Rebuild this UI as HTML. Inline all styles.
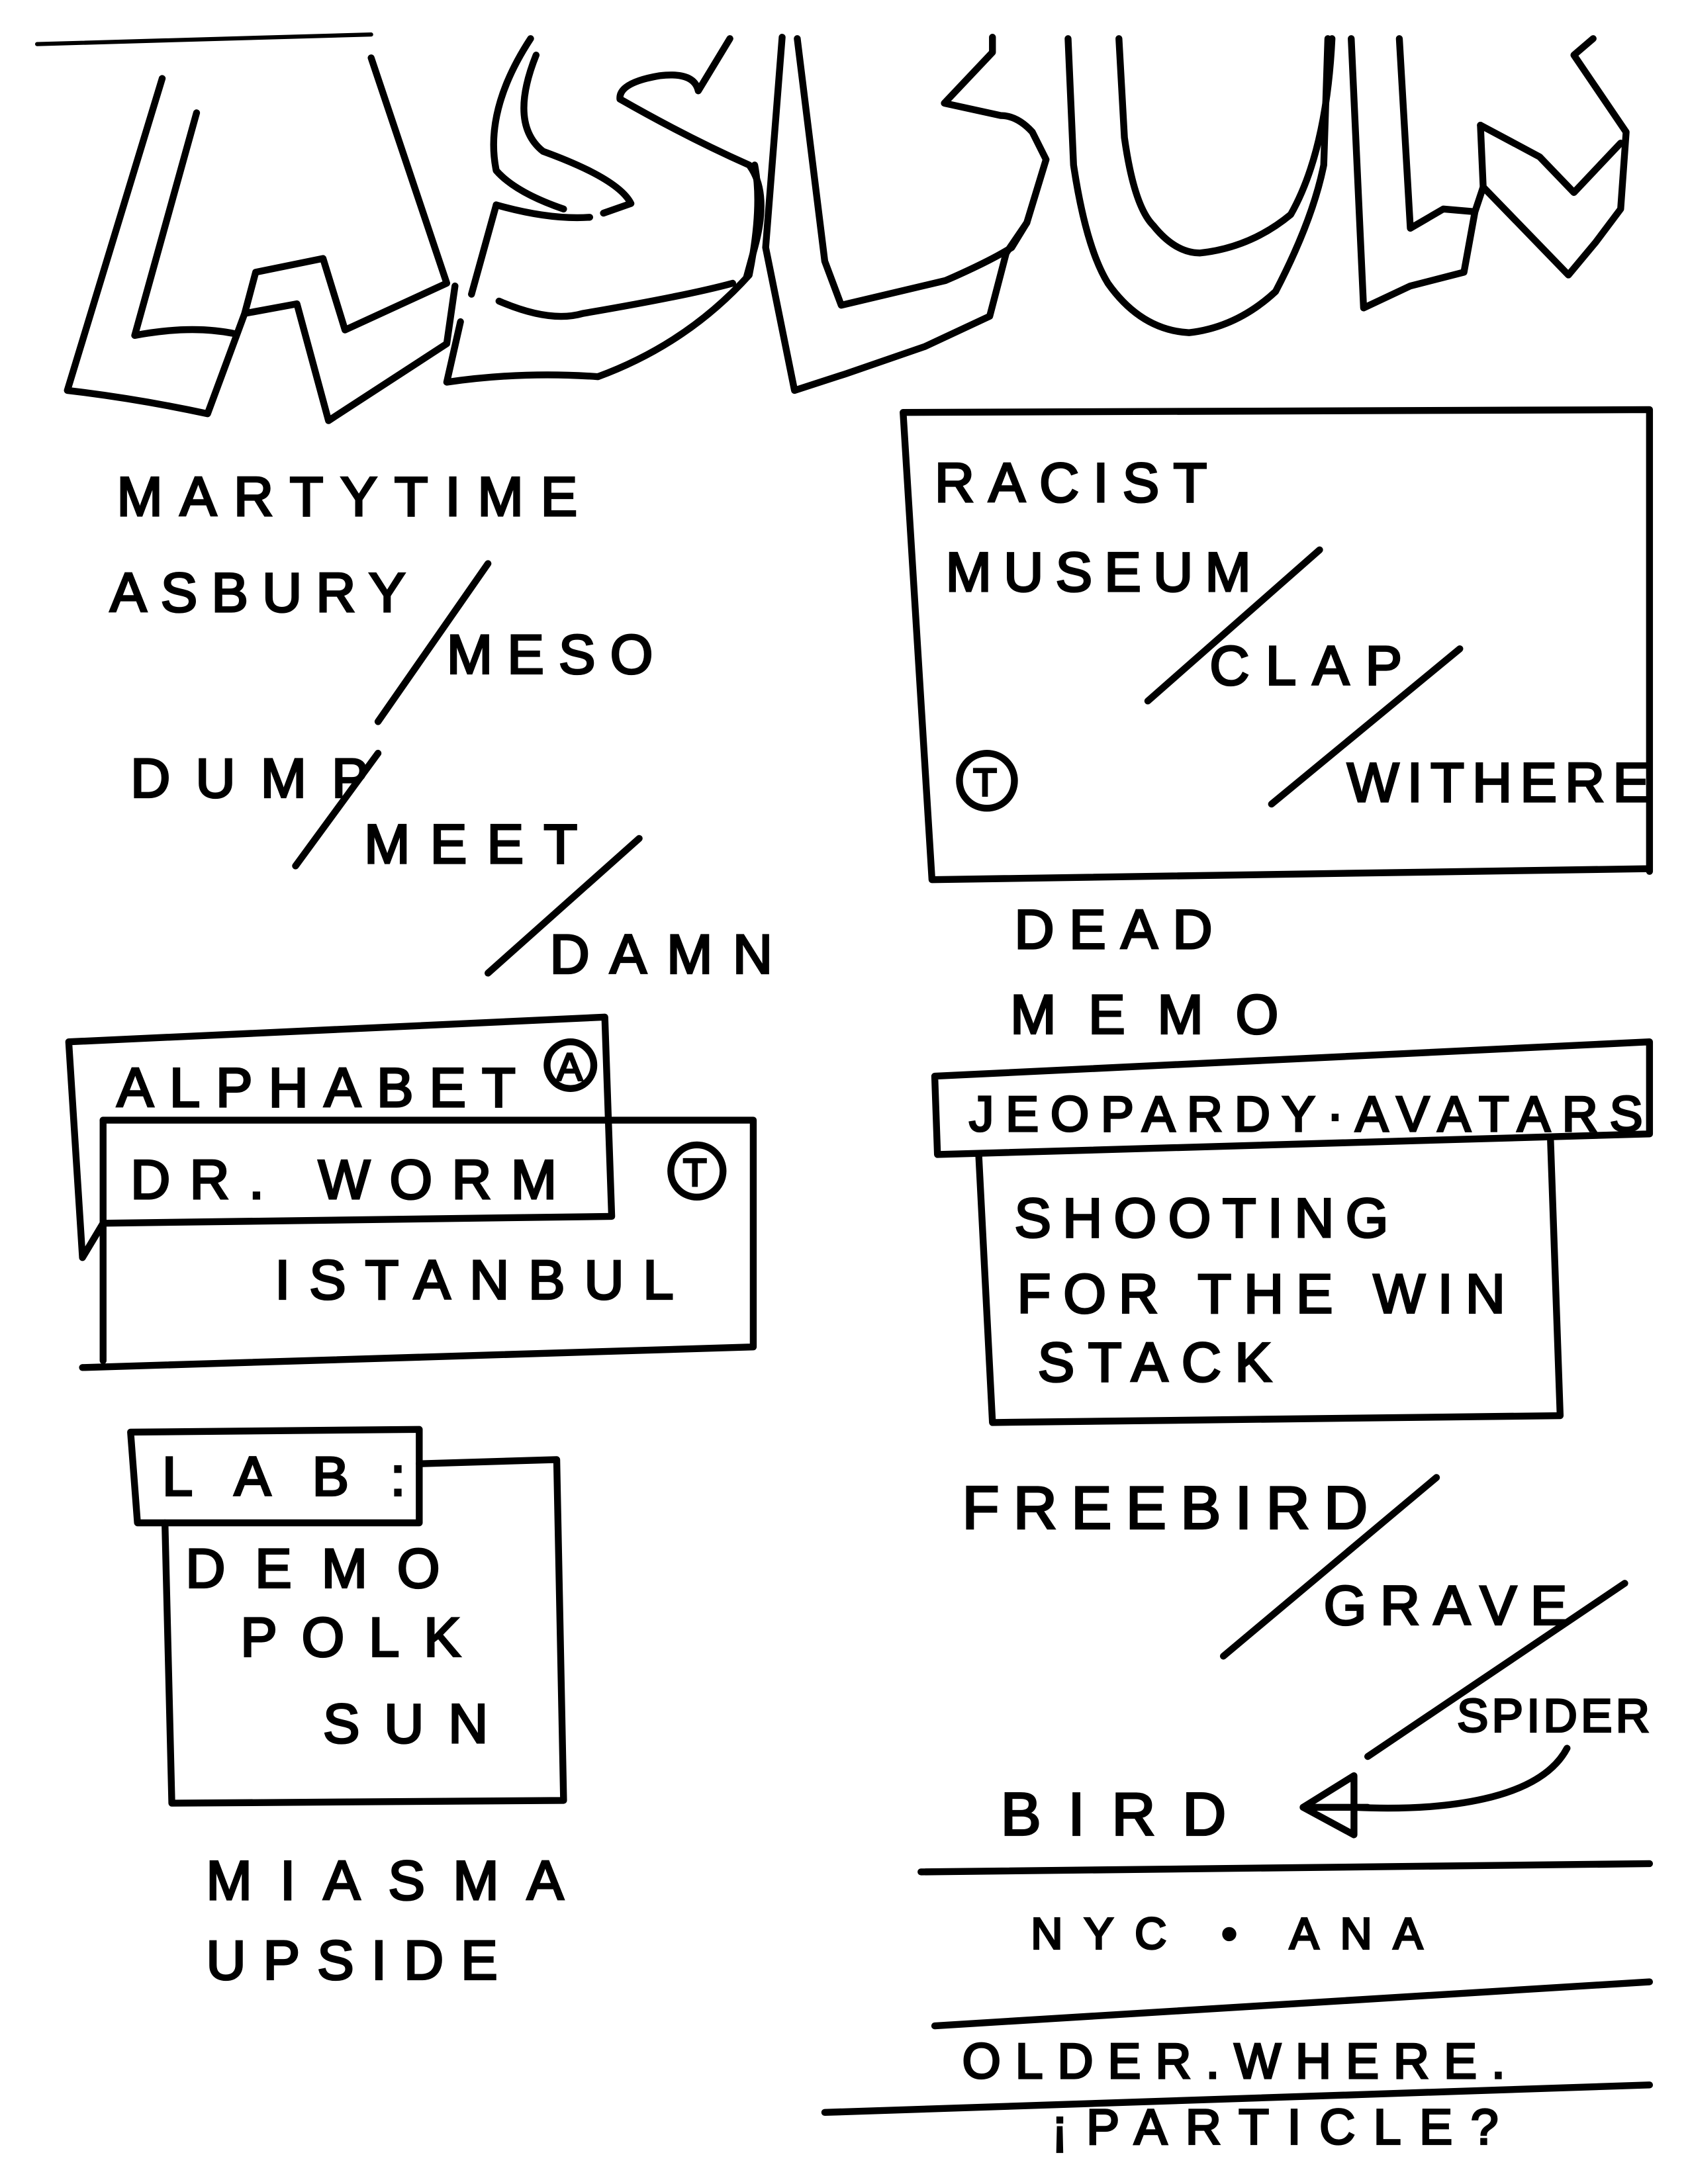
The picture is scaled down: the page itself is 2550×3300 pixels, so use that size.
<!DOCTYPE html>
<html><head><meta charset="utf-8">
<style>
html,body{margin:0;padding:0;background:#fff;}
svg{display:block;}
text{font-family:"Liberation Sans",sans-serif;fill:#000;stroke:#000;stroke-width:1.6px;}
</style></head>
<body>
<svg width="2550" height="3300" viewBox="0 0 1228 1589" xmlns="http://www.w3.org/2000/svg">
<g fill="none" stroke="#000" stroke-width="5" stroke-linejoin="round" stroke-linecap="round">
<!-- top line -->
<path d="M27,32 L270,25" stroke-width="3"/>
<!-- L -->
<path d="M118,57 L49,284 Q100,290 151,301 L178,228 L186,198 L235,188 L251,240 L325,206 L270,42"/>
<path d="M143,82 L98,244 Q140,236 172,243"/>
<!-- N/V second stroke -->
<path d="M178,228 L216,221 L239,306 L325,250 L331,208"/>
<!-- S -->
<path d="M386,28 Q352,80 361,124 Q375,140 410,152"/>
<path d="M390,40 Q370,90 395,110 Q450,130 459,148 L439,155"/>
<path d="M361,149 Q400,160 429,158"/>
<path d="M361,149 L343,214"/>
<path d="M363,219 Q400,235 424,228 Q500,215 533,206"/>
<path d="M335,234 L325,278 Q380,270 435,274 Q500,250 545,200 Q555,150 549,120"/>
<path d="M531,28 L508,66 Q505,52 480,55 Q450,60 451,72 Q500,100 545,120 Q560,140 549,180 L543,202"/>
<!-- L2 -->
<path d="M569,27 L557,180 L578,284 L615,272 L673,252 L720,230 L732,184 L747,162 L761,116 L751,96 Q740,84 728,84 L687,75 L722,38 L722,27"/>
<path d="M580,28 L600,190 L612,222 L688,204 Q720,190 736,180 L747,162"/>
<!-- U -->
<path d="M777,28 L781,120 Q790,180 806,206 Q830,240 865,242 Q900,238 928,212 Q955,160 963,120 L966,28"/>
<path d="M814,28 L818,100 Q825,150 839,164 Q855,184 873,184 Q910,180 939,156 Q965,110 969,28"/>
<!-- W -->
<path d="M983,28 L992,224 L1026,208 L1065,198 L1073,154 L1079,136 L1141,200 L1161,176 L1179,152 L1183,96 L1145,40 L1159,28"/>
<path d="M1018,28 L1026,166 L1050,152 L1073,154"/>
<path d="M1077,91 L1079,136"/>
<path d="M1077,91 L1120,114 L1145,140 L1179,104"/>
<!-- slashes left -->
<path d="M275,525 L355,410"/>
<path d="M215,630 L275,548"/>
<path d="M355,708 L465,610"/>
<!-- alphabet boxes -->
<path d="M50,758 L440,740 L445,885 L75,890 L60,915 L50,758"/>
<path d="M75,815 L548,815 L548,980 L60,995"/>
<path d="M75,815 L75,990"/>
<circle cx="415" cy="775" r="17"/>
<circle cx="507" cy="852" r="19"/>
<!-- LAB boxes -->
<path d="M95,1042 L305,1040 L305,1108 L100,1108 Z"/>
<path d="M305,1065 L405,1062 L410,1310 L125,1312 L120,1108"/>
<!-- right box -->
<path d="M657,300 L1200,298 L1200,634 M657,300 L678,640 L1200,632"/>
<circle cx="718" cy="568" r="20"/>
<path d="M835,510 L960,400"/>
<path d="M925,585 L1062,472"/>
<!-- jeopardy -->
<path d="M680,783 L1200,758 L1200,825 M680,783 L682,840 L1200,825"/>
<path d="M712,840 L722,1035 L1135,1030 L1128,830"/>
<!-- freebird -->
<path d="M890,1205 L1045,1075"/>
<path d="M995,1278 L1182,1152"/>
<path d="M1140,1272 C1120,1310 1050,1318 985,1315"/>
<path d="M985,1292 L985,1335 L948,1315 Z"/>
<path d="M948,1315 L995,1315"/>
<!-- bottom lines -->
<path d="M670,1362 L1200,1356"/>
<path d="M680,1474 L1200,1442"/>
<path d="M600,1537 L1200,1517"/>
</g>
<g font-size="40" lengthAdjust="spacing">
<text x="85" y="375" textLength="335">MARTYTIME</text>
<text x="80" y="445" textLength="215">ASBURY</text>
<text x="325" y="490" textLength="150">MESO</text>
<text x="95" y="580" textLength="173">DUMP</text>
<text x="265" y="628" textLength="155">MEET</text>
<text x="400" y="708" textLength="162">DAMN</text>
<text x="85" y="805" textLength="290">ALPHABET</text>
<text x="405" y="786" font-size="28" stroke-width="1">A</text>
<text x="95" y="872" textLength="310">DR. WORM</text>
<text x="497" y="863" font-size="28" stroke-width="1">T</text>
<text x="200" y="945" textLength="290">ISTANBUL</text>
<text x="118" y="1088" textLength="177">LAB:</text>
<text x="135" y="1155" textLength="185">DEMO</text>
<text x="175" y="1205" textLength="160">POLK</text>
<text x="235" y="1268" textLength="120">SUN</text>
<text x="150" y="1382" textLength="260">MIASMA</text>
<text x="150" y="1440" textLength="212">UPSIDE</text>
<text x="680" y="365" textLength="198">RACIST</text>
<text x="688" y="430" textLength="222">MUSEUM</text>
<text x="880" y="498" textLength="140">CLAP</text>
<text x="980" y="583" textLength="220">WITHERE</text>
<text x="708" y="579" font-size="28" stroke-width="1">T</text>
<text x="738" y="690" textLength="144">DEAD</text>
<text x="735" y="752" textLength="195">MEMO</text>
<text x="705" y="823" font-size="36" textLength="490">JEOPARDY·AVATARS</text>
<text x="738" y="900" textLength="272">SHOOTING</text>
<text x="740" y="955" textLength="355">FOR THE WIN</text>
<text x="755" y="1005" textLength="170">STACK</text>
<text x="700" y="1112" font-size="44" textLength="295">FREEBIRD</text>
<text x="963" y="1182" textLength="177">GRAVE</text>
<text x="1060" y="1260" font-size="34" textLength="140">SPIDER</text>
<text x="728" y="1335" font-size="44" textLength="164">BIRD</text>
<text x="750" y="1418" font-size="32" textLength="285">NYC • ANA</text>
<text x="700" y="1512" font-size="36" textLength="395">OLDER.WHERE.</text>
<text x="765" y="1560" font-size="36" textLength="325">¡PARTICLE?</text>
</g>
</svg>
</body></html>
